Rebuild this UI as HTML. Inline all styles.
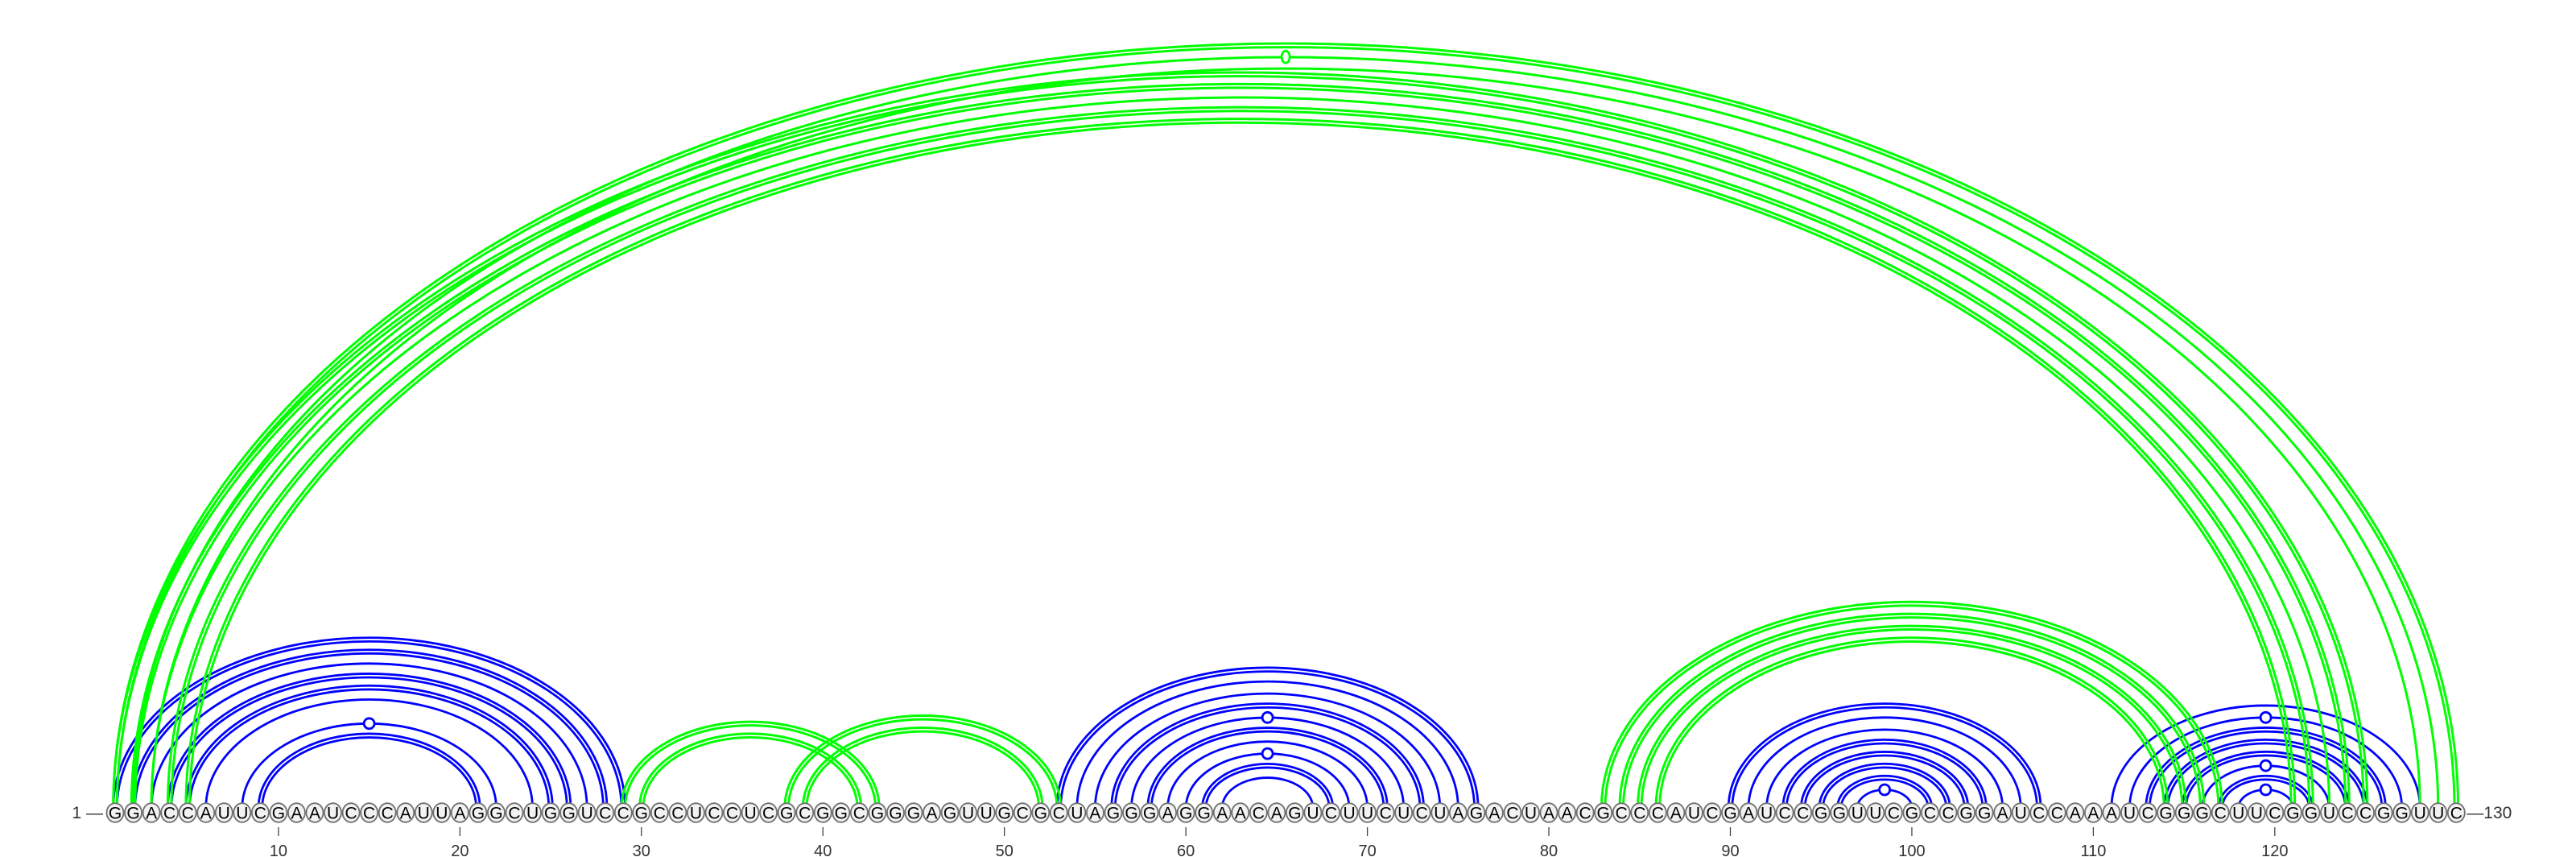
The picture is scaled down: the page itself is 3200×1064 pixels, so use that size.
<!DOCTYPE html>
<html><head><meta charset="utf-8"><style>
html,body{margin:0;padding:0;background:#fff;}
svg{display:block;}
text{font-family:"Liberation Sans","DejaVu Sans",sans-serif;}
</style></head><body>
<svg id="chart" width="3200" height="1064" viewBox="0 0 3200 1064" xmlns="http://www.w3.org/2000/svg">
<g id="blue-arcs"></g>
<g id="green-arcs"></g>
<g id="bases"></g>
<g id="axis"></g>
</svg>
<script>
const sequence = "GGACCAUUCGAAUCCCAUUAGGCUGGUCCGCCUCCUCGCGGCGGGAGUUGCGCUAGGGAGGAACAGUCUUCUCUAGACUAACGCCCAUCGAUCCGGUUCGCCGGAUCCAAAUCGGGCUUCGGUCCGGUUC";
// [i, j, double(1/0), marker(1/0)]
const bluePairs = [
 [1,29,1,0],[2,28,1,0],[3,27,0,0],[4,26,1,0],[5,25,1,0],[6,24,0,0],[8,22,0,1],[9,21,1,0],
 [53,76,1,0],[54,75,0,0],[55,74,0,0],[56,73,1,0],[57,72,0,1],[58,71,1,0],[59,70,0,0],[60,69,0,1],[61,68,1,0],[62,67,0,0],
 [90,107,1,0],[91,106,0,0],[92,105,0,0],[93,104,1,0],[94,103,1,0],[95,102,1,0],[96,101,1,0],[97,100,0,1],
 [111,128,0,0],[112,127,0,1],[113,126,1,0],[114,125,1,0],[115,124,1,0],[116,123,0,1],[117,122,1,0],[118,121,0,1]
];
const greenPairs = [
 [1,130,1,0],[2,129,0,1],[3,128,0,0],[1,125,1,0],[2,124,1,0],[3,123,0,0],[4,122,1,0],[5,121,1,0],
 [29,43,1,0],[30,42,1,0],[38,53,1,0],[39,52,1,0],
 [83,117,1,0],[84,116,1,0],[85,115,1,0],[86,114,1,0]
];
const tickPositions = [10,20,30,40,50,60,70,80,90,100,110,120];

const NS="http://www.w3.org/2000/svg";
const X0=143, DX=22.545, BASEY=1009, FOOT=1003;
function xOf(i){return X0+(i-1)*DX;}
function ratioOf(rx){return 0.665 - 0.014*(rx/1455);}
function mk(tag,attrs,parent){const e=document.createElementNS(NS,tag);for(const k in attrs)e.setAttribute(k,attrs[k]);parent.appendChild(e);return e;}

function drawArcs(pairs,color,gid,prefix,sw){
  const g=document.getElementById(gid);
  pairs.forEach(p=>{
    const x1=xOf(p[0]),x2=xOf(p[1]);
    const cx=(x1+x2)/2, rx=(x2-x1)/2, ry=rx*ratioOf(rx);
    const offs=p[2]?[-2.3,2.3]:[0];
    offs.forEach(o=>{
      const r1=rx+o, r2=ry+o;
      const path=mk('path',{d:`M ${cx-r1} ${FOOT} A ${r1} ${r2} 0 0 1 ${cx+r1} ${FOOT}`,fill:'none',stroke:color,'stroke-width':sw},g);
      
      
    });
    if(p[3]){
      const top=FOOT-ry;
      const m=mk('ellipse',{cx:cx,cy:top,rx:color==='#00ff00'?5:6.5,ry:color==='#00ff00'?7.5:6.5,fill:'#fff',stroke:color,'stroke-width':2.8},g);
      
      
    }
  });
}
drawArcs(bluePairs,'#0000ff','blue-arcs','blue',2.8);
drawArcs(greenPairs,'#00ff00','green-arcs','green',3);

const bg=document.getElementById('bases');
for(let i=1;i<=sequence.length;i++){
  const x=xOf(i);
  const c=mk('ellipse',{cx:x,cy:BASEY,rx:10.5,ry:11.8,fill:'#f2f2f2',stroke:'#707070','stroke-width':1.8},bg);
  
  
  const t=mk('text',{x:x,y:BASEY+7.5,'text-anchor':'middle','font-size':21,fill:'#000'},bg);
  t.textContent=sequence[i-1];
  
  
}
const ax=document.getElementById('axis');
const s1=mk('text',{x:128,y:BASEY+7,'text-anchor':'end','font-size':21,fill:'#333'},ax);
s1.textContent='1 \u2014';


const s2=mk('text',{x:xOf(130)+13,y:BASEY+7,'text-anchor':'start','font-size':21,fill:'#333'},ax);
s2.textContent='\u2014130';


tickPositions.forEach(p=>{
  const x=xOf(p);
  const l=mk('line',{x1:x,y1:1027,x2:x,y2:1038,stroke:'#444','stroke-width':1.3},ax);
  
  
  const t=mk('text',{x:x,y:1063,'text-anchor':'middle','font-size':20,fill:'#333'},ax);
  t.textContent=String(p);
  
  
});
</script>
</body></html>
